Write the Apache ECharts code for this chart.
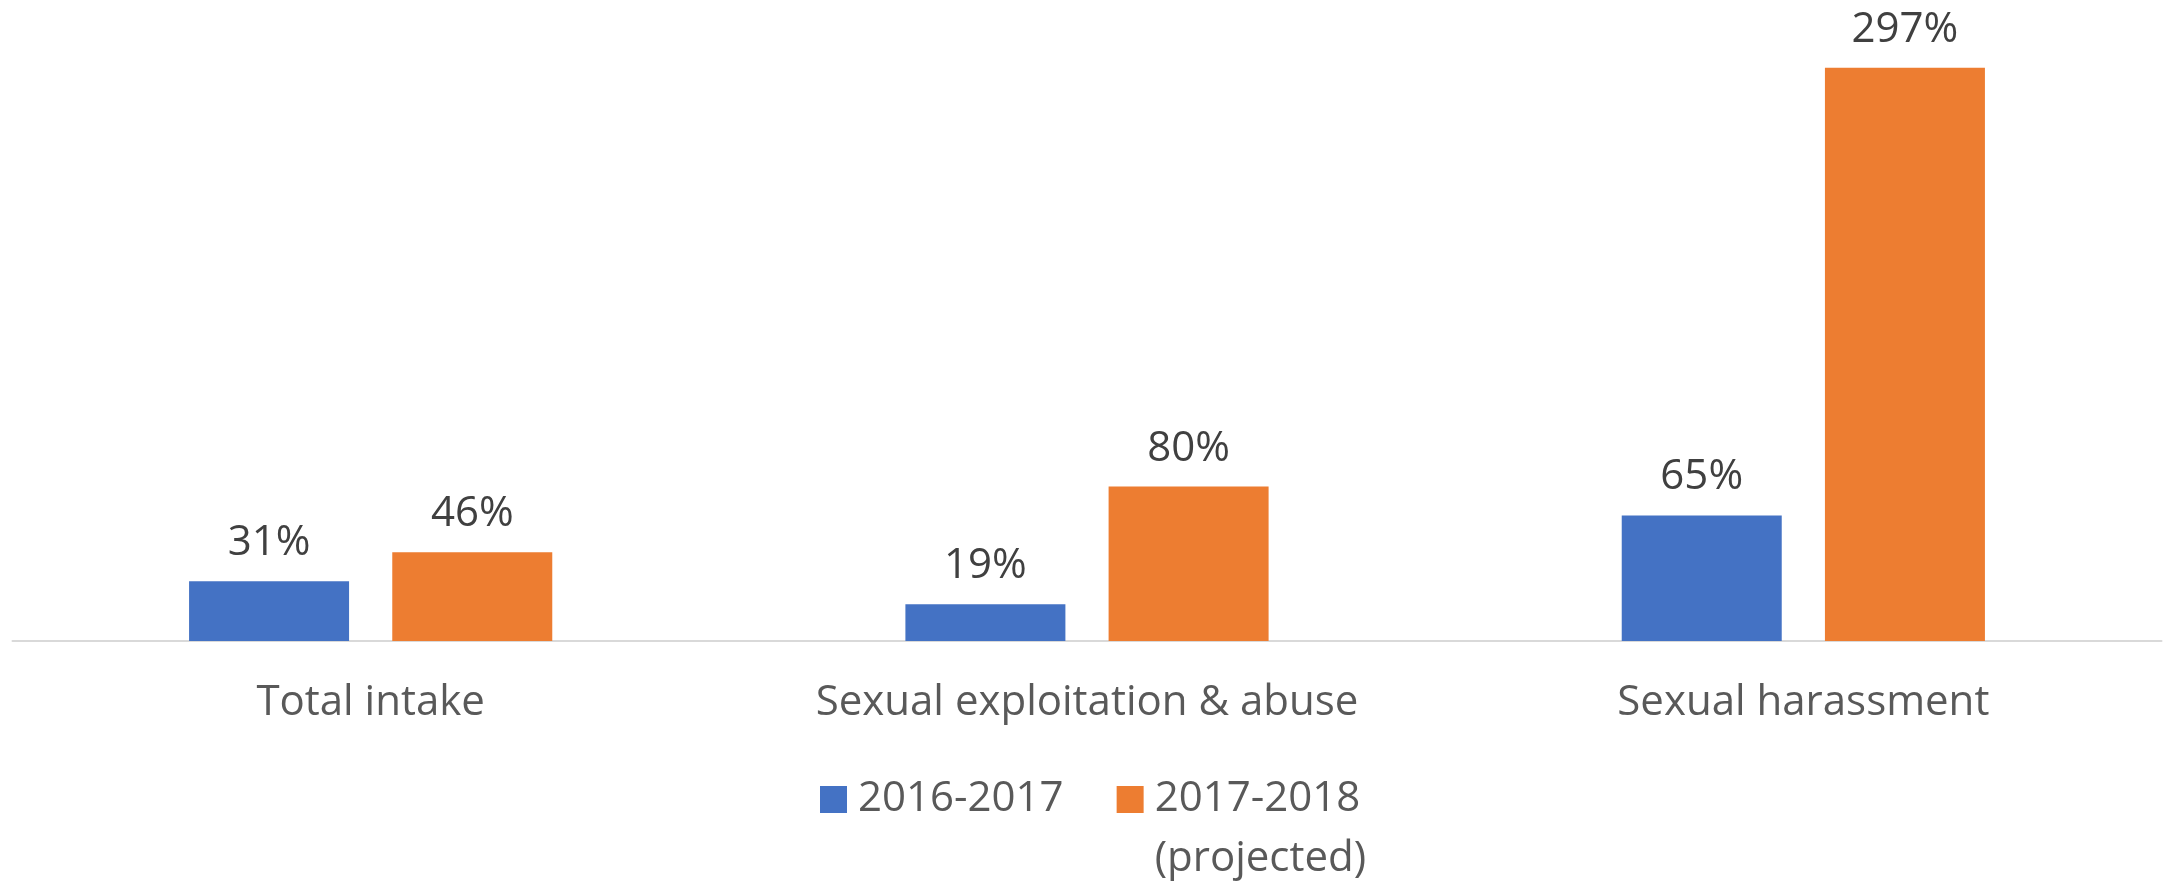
<!DOCTYPE html>
<html>
<head>
<meta charset="utf-8">
<script src="https://cdn.jsdelivr.net/npm/echarts@6/dist/echarts.min.js"></script>
<style>
html,body{margin:0;padding:0;background:#fff;}
#chart{width:2163px;height:883px;}
</style>
</head>
<body>
<div id="chart"></div>
<script>
const categories = ['Total intake', 'Sexual exploitation & abuse', 'Sexual harassment'];
const seriesNames = ['2016-2017', '2017-2018 (projected)'];
const values2016 = [31, 19, 65];
const values2017 = [46, 80, 297];
const legendLabels = ['2016-2017', '\n2017-2018\n(projected)'];

const FONT = '"Open Sans", "Noto Sans", sans-serif';
const chart = echarts.init(document.getElementById('chart'));
chart.setOption({
  backgroundColor: '#ffffff',
  animation: false,
  grid: { left: 12.5, right: 1.5, top: 4, bottom: 242, containLabel: false },
  xAxis: {
    type: 'category',
    data: categories,
    axisLine: { show: true, lineStyle: { color: '#D9D9D9', width: 2 } },
    axisTick: { show: false },
    axisLabel: { color: '#595959', fontSize: 42, fontFamily: FONT, margin: 41, lineHeight: 42, interval: 0 }
  },
  yAxis: {
    type: 'value', min: 0, max: 330, show: false,
    splitLine: { show: false }
  },
  legend: {
    left: 820,
    top: 709.5,
    padding: 0,
    itemWidth: 27,
    itemHeight: 27,
    itemGap: 53,
    icon: 'rect',
    textStyle: { color: '#595959', fontSize: 42, fontFamily: FONT, lineHeight: 60, padding: [0, 0, 0, 6] },
    formatter: function (name) { return legendLabels[seriesNames.indexOf(name)]; },
    data: seriesNames
  },
  series: [
    {
      name: seriesNames[0], type: 'bar', data: values2016,
      barWidth: 160, barGap: '27%',
      itemStyle: { color: '#4472C4' },
      label: { show: true, position: 'top', distance: 17, color: '#404040', fontSize: 42, lineHeight: 42, fontFamily: FONT, formatter: '{c}%' }
    },
    {
      name: seriesNames[1], type: 'bar', data: values2017,
      barWidth: 160, barGap: '27%',
      itemStyle: { color: '#ED7D31' },
      label: { show: true, position: 'top', distance: 17, color: '#404040', fontSize: 42, lineHeight: 42, fontFamily: FONT, formatter: '{c}%' }
    }
  ]
});
</script>
</body>
</html>
